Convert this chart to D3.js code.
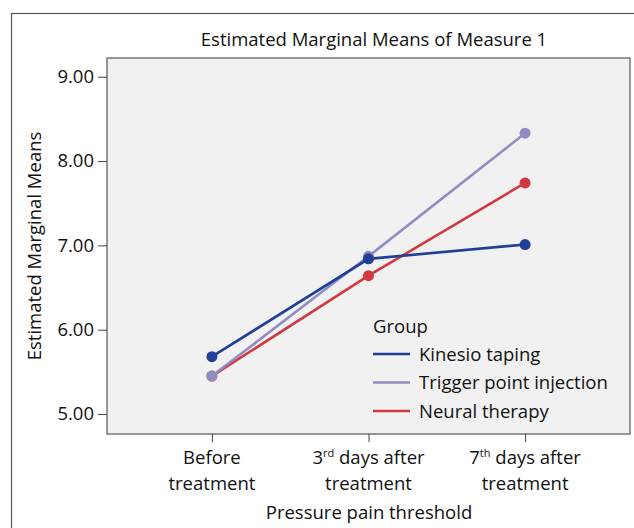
<!DOCTYPE html>
<html>
<head>
<meta charset="utf-8">
<script src="https://cdn.jsdelivr.net/npm/d3@7"></script>
<style>
  body { margin: 0; background: #fff; }
  svg text { font-family: "Open Sans", "Noto Sans", sans-serif; fill: #111; }
</style>
</head>
<body>
<svg id="chart" width="634" height="528"></svg>
<script>
// time points on the x axis (two text lines each, sup = superscript part)
var timepoints = ["before", "day3", "day7"]
var tickLines = [
    [{ t: "Before" }, { t: "treatment" }],
    [{ t: "3", sup: "rd", rest: " days after" }, { t: "treatment" }],
    [{ t: "7", sup: "th", rest: " days after" }, { t: "treatment" }]
]
var groups = ["Kinesio taping", "Trigger point injection", "Neural therapy"]
var groupColors = ["#203f97", "#8e8cc3", "#d2383f"]

// estimated marginal means per group
var kinesio = [5.68, 6.84, 7.01]
var trigger = [5.45, 6.87, 8.33]
var neural = [5.45, 6.64, 7.74]

var yTicks = [5, 6, 7, 8, 9]

var svg = d3.select("#chart")
var pLeft = 107, pRight = 630, pTop = 58, pBottom = 434
var fs = "18.5px"

// outer frame
svg.append("rect")
    .attr("x", 11.5).attr("y", 13.5)
    .attr("width", 640).attr("height", 540)
    .attr("fill", "#fff").attr("stroke", "#555").attr("stroke-width", 1.2)

// plot area
svg.append("rect")
    .attr("x", pLeft).attr("y", pTop)
    .attr("width", pRight - pLeft).attr("height", pBottom - pTop)
    .attr("fill", "#f1f1f1").attr("stroke", "#555").attr("stroke-width", 1.2)

var x = d3.scalePoint().domain(timepoints).range([pLeft, pRight]).padding(0.67)
var y = d3.scaleLinear().domain([4.763, 9.222]).range([pBottom, pTop])

// y axis
var yAxis = svg.append("g")
    .attr("transform", "translate(" + pLeft + ",0)")
    .call(d3.axisLeft(y).tickValues(yTicks).tickFormat(d3.format(".2f")).tickSize(9).tickPadding(4))
yAxis.select(".domain").remove()
yAxis.selectAll("line").attr("stroke", "#444")
yAxis.selectAll("text").style("font-size", fs).attr("fill", "#111")
    .style("font-family", "'Open Sans', sans-serif")

// x axis
var xAxis = svg.append("g")
    .attr("transform", "translate(0," + pBottom + ")")
    .call(d3.axisBottom(x).tickSize(8).tickFormat(""))
xAxis.select(".domain").remove()
xAxis.selectAll("line").attr("stroke", "#444")

timepoints.forEach(function (tp, i) {
    tickLines[i].forEach(function (ln, j) {
        var txt = svg.append("text")
            .attr("x", x(tp)).attr("y", 464 + j * 26)
            .attr("text-anchor", "middle")
            .style("font-size", fs)
        txt.append("tspan").text(ln.t)
        if (ln.sup) {
            txt.append("tspan").attr("dy", -7).style("font-size", "11px").text(ln.sup)
            txt.append("tspan").attr("dy", 7).text(ln.rest)
        }
    })
})

// titles
svg.append("text")
    .attr("x", 374).attr("y", 46)
    .attr("text-anchor", "middle")
    .style("font-size", fs)
    .text("Estimated Marginal Means of Measure 1")

svg.append("text")
    .attr("x", 369).attr("y", 519)
    .attr("text-anchor", "middle")
    .style("font-size", fs)
    .text("Pressure pain threshold")

svg.append("text")
    .attr("transform", "translate(41," + ((pTop + pBottom) / 2) + ") rotate(-90)")
    .attr("text-anchor", "middle")
    .style("font-size", fs)
    .text("Estimated Marginal Means")

// lines and points; drawn so Kinesio ends on top
var series = [
    { name: groups[2], values: neural, color: groupColors[2] },
    { name: groups[1], values: trigger, color: groupColors[1] },
    { name: groups[0], values: kinesio, color: groupColors[0] }
]

var line = d3.line()
    .x(function (d, i) { return x(timepoints[i]) })
    .y(function (d) { return y(d) })

series.forEach(function (s) {
    svg.append("path")
        .datum(s.values)
        .attr("d", line)
        .attr("fill", "none")
        .attr("stroke", s.color)
        .attr("stroke-width", 2.6)
    svg.selectAll(null)
        .data(s.values)
        .enter().append("circle")
        .attr("cx", function (d, i) { return x(timepoints[i]) })
        .attr("cy", function (d) { return y(d) })
        .attr("r", 5.5)
        .attr("fill", s.color)
})

// legend
var lg = svg.append("g").attr("transform", "translate(373,0)")
lg.append("text").attr("x", 0).attr("y", 333).style("font-size", fs).text("Group")
groups.forEach(function (g, i) {
    var yy = 354 + i * 28.5
    lg.append("line")
        .attr("x1", 0).attr("x2", 37).attr("y1", yy).attr("y2", yy)
        .attr("stroke", groupColors[i]).attr("stroke-width", 2.6)
    lg.append("text")
        .attr("x", 46).attr("y", yy + 6.5)
        .style("font-size", fs)
        .text(g)
})
</script>
</body>
</html>
